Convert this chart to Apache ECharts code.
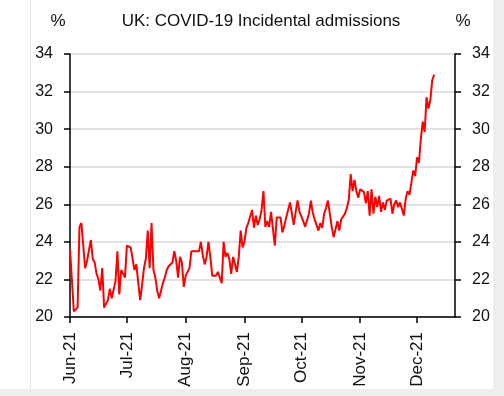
<!DOCTYPE html>
<html>
<head>
<meta charset="utf-8">
<script src="https://cdn.jsdelivr.net/npm/echarts@6/dist/echarts.min.js"></script>
<style>html,body{margin:0;padding:0;background:#fff}#c{width:504px;height:396px}</style>
</head>
<body>
<div id="c"></div>
<script>
// Title and axis units
var titleText = 'UK: COVID-19 Incidental admissions';
var unitText = '%';
// Axis range: first and last day shown on the x axis
var startDate = '2021-06-01';
var endDate = '2021-12-21';
// Month tick labels (shown at the 1st of each month)
var monthLabels = {'06':'Jun-21','07':'Jul-21','08':'Aug-21','09':'Sep-21','10':'Oct-21','11':'Nov-21','12':'Dec-21'};
// Y tick values
var yTicks = [20, 22, 24, 26, 28, 30, 32, 34];
// Daily incidental admissions share (%), from 1 Jun 2021
var incidental = [
  23.6, 22.0, 20.3, 20.3, 20.5, 24.8, 25.0, 25.1, 22.6, 23.0,
  22.9, 24.1, 23.1, 22.9, 22.3, 22.0, 21.4, 22.6, 20.5, 20.4,
  20.9, 21.5, 21.0, 21.0, 21.9, 23.5, 21.2, 22.5, 22.4, 22.1,
  23.8, 23.9, 23.7, 23.7, 22.5, 22.8, 21.8, 20.9, 21.7, 22.6,
  23.1, 24.6, 22.6, 25.0, 22.5, 22.1, 21.4, 21.0, 21.0, 21.8,
  22.1, 22.5, 22.7, 22.6, 22.9, 23.5, 23.0, 22.1, 23.2, 22.9,
  21.6, 22.2, 22.1, 22.6, 23.5, 23.5, 23.5, 23.5, 23.5, 24.0,
  23.3, 22.8, 23.2, 24.0, 23.2, 22.2, 22.2, 22.2, 22.4, 22.1,
  21.8, 24.0, 23.2, 23.4, 23.1, 22.3, 23.2, 23.1, 22.4, 23.2,
  24.6, 23.7, 24.0, 24.75, 25.0, 25.1, 25.7, 24.75, 25.4, 24.9,
  25.2,
  25.7, 26.7, 24.8, 25.1, 24.8, 25.6, 25.6, 23.8, 25.3, 25.3,
  25.3, 24.5, 24.85, 25.3, 25.7, 26.1, 26.1, 24.9, 25.6, 26.2,
  25.6, 25.55, 25.1, 24.8, 24.85, 25.5, 26.2, 25.55, 25.2, 25.1,
  24.6, 25.0, 24.75, 25.5, 25.8, 26.2, 25.5, 24.8, 24.25, 24.2,
  25.1, 24.6, 25.2, 25.1, 25.5, 25.8, 26.25, 27.6, 26.7, 27.3,
  26.7, 26.35,
  26.8, 26.9, 26.65, 26.05, 26.7, 25.4, 26.8, 25.5, 26.4, 25.85,
  26.45, 25.6, 26.1, 25.7, 26.2, 26.1, 26.3, 25.5, 26.0, 26.2,
  25.85, 26.1, 25.75, 25.4, 26.3, 26.7, 26.5, 26.45, 27.8, 27.5,
  28.5, 28.2, 29.5, 30.4, 29.85, 31.7, 31.1, 31.55, 32.6, 32.9
];

// Build daily category list
var categories = [];
(function(){
  var d = new Date(startDate + 'T00:00:00Z');
  var e = new Date(endDate + 'T00:00:00Z');
  while (d <= e) {
    categories.push(d.toISOString().slice(0,10));
    d.setUTCDate(d.getUTCDate() + 1);
  }
})();
function isMonthStart(v){ return v.slice(8,10) === '01'; }

var FONT = "'Liberation Sans', Arial, sans-serif";
var chart = echarts.init(document.getElementById('c'), null, {renderer:'canvas'});
var yAxisBase = {
  type: 'value', min: yTicks[0], max: yTicks[yTicks.length-1], interval: 2,
  axisLine: {show: true, lineStyle: {color: '#000', width: 1.5}},
  axisTick: {show: true, inside: false, length: 6, lineStyle: {color: '#000', width: 1.5}},
  axisLabel: {color: '#111', fontSize: 16, fontFamily: FONT, margin: 17}
};
chart.setOption({
  animation: false,
  backgroundColor: '#eeeeee',
  graphic: [
    {type: 'rect', z: -100, silent: true, shape: {x: 0, y: 0, width: 493, height: 389}, style: {fill: '#ffffff'}},
    {type: 'line', z: -99, silent: true, shape: {x1: 30.5, y1: 0, x2: 30.5, y2: 389}, style: {stroke: '#e6e6e6', lineWidth: 1}},
    {type: 'text', x: 261, y: 21, style: {text: titleText, fill: '#111', font: '17px ' + FONT, textAlign: 'center', textVerticalAlign: 'middle'}},
    {type: 'text', x: 58, y: 21, style: {text: unitText, fill: '#111', font: '17px ' + FONT, textAlign: 'center', textVerticalAlign: 'middle'}},
    {type: 'text', x: 463, y: 21, style: {text: unitText, fill: '#111', font: '17px ' + FONT, textAlign: 'center', textVerticalAlign: 'middle'}}
  ],
  grid: {left: 70, right: 49, top: 54, bottom: 79, containLabel: false},
  xAxis: {
    type: 'category', data: categories, boundaryGap: false,
    axisLine: {show: true, lineStyle: {color: '#000', width: 1.5}},
    axisTick: {show: true, length: 6, interval: function(i, v){ return isMonthStart(v); }, lineStyle: {color: '#000', width: 1.5}},
    axisLabel: {
      interval: function(i, v){ return isMonthStart(v); },
      rotate: 90, margin: 15, color: '#111', fontSize: 17, fontFamily: FONT,
      formatter: function(v){ return monthLabels[v.slice(5,7)] || ''; }
    },
    splitLine: {show: false}
  },
  yAxis: [
    Object.assign({}, yAxisBase, {position: 'left', splitLine: {show: true, lineStyle: {color: '#d9d9d9', width: 1.5}}}),
    Object.assign({}, yAxisBase, {position: 'right', splitLine: {show: false}})
  ],
  series: [{
    type: 'line', data: incidental, yAxisIndex: 0, showSymbol: false, symbol: 'none',
    lineStyle: {color: '#ff0000', width: 2}, itemStyle: {color: '#ff0000'}
  }]
});
</script>
</body>
</html>
